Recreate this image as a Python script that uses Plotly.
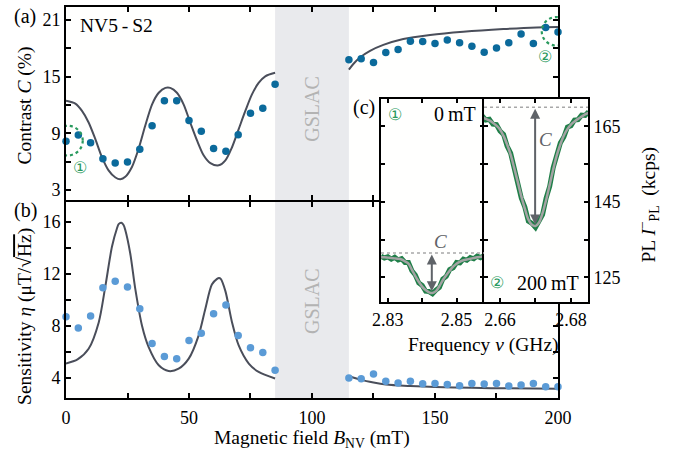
import plotly.graph_objects as go

# ---------------- data ----------------
B_dots = [0, 5, 10, 15, 20, 25, 30, 35, 40, 45, 50, 55, 60, 65, 70, 75, 80, 85,
          115, 120, 125, 130, 135, 140, 145, 150, 155, 160, 165, 170, 175, 180, 185, 190, 195, 200]
contrast = [8.16, 8.83, 8.0, 6.32, 5.86, 5.96, 7.32, 9.8, 12.45, 12.45, 10.36, 9.21, 7.40, 7.11, 8.86, 11.13, 11.65, 14.2,
            16.78, 16.88, 16.5, 17.55, 17.86, 18.73, 18.7, 18.49, 18.87, 18.59, 18.21, 17.58, 18.03, 18.59, 19.5, 18.49, 20.2, 19.71]
sensitivity = [8.69, 7.83, 8.76, 10.91, 11.42, 10.97, 9.30, 6.64, 5.65, 5.48, 6.87, 7.42, 8.92, 9.6, 7.25, 6.31, 5.95, 4.59,
               4.0, 3.93, 4.31, 3.75, 3.62, 3.75, 3.55, 3.58, 3.5, 3.40, 3.58, 3.53, 3.58, 3.38, 3.45, 3.58, 3.32, 3.32]

fitA1_B = [0, 3.8, 6.5, 9.2, 11.9, 14.6, 17.3, 20.1, 22.1, 24.1, 26.8, 29.5, 32.2, 35.0, 37.7, 40.4, 42.4, 45.1,
           47.8, 50.5, 53.3, 56.0, 58.7, 62.1, 64.8, 67.5, 70.2, 72.9, 75.6, 78.3, 81.0, 85]
fitA1_C = [12.45, 12.14, 11.37, 10.15, 8.41, 6.49, 5.09, 4.33, 4.15, 4.40, 5.44, 7.36, 9.80, 12.07, 13.29, 13.81, 13.81, 13.29,
           12.07, 10.15, 8.23, 6.66, 5.86, 5.62, 6.14, 7.53, 9.45, 11.37, 13.12, 14.33, 15.03, 15.40]
fitA2_B = [115, 116.8, 119.5, 123.6, 129, 137.1, 148, 161.5, 177.8, 191.3, 200]
fitA2_C = [15.73, 16.33, 17.02, 17.72, 18.35, 18.98, 19.40, 19.74, 20.03, 20.2, 20.24]

fitB1_B = [0, 4.7, 9.2, 13.3, 16.0, 18.7, 20.7, 21.4, 22.5, 23.4, 24.1, 26.1, 28.2, 30.9, 33.6, 37.7, 41.7, 45.8,
           49.9, 53.9, 56.6, 59.3, 61.4, 62.2, 62.9, 64.8, 67.5, 70.2, 74.3, 78.3, 85]
fitB1_S = [5.10, 5.42, 6.24, 8.26, 11.04, 14.08, 15.47, 15.80, 15.90, 15.73, 15.35, 13.57, 10.79, 8.0, 6.36, 4.97, 4.53, 4.71,
           5.48, 7.25, 9.27, 11.17, 11.60, 11.67, 11.60, 10.66, 8.26, 6.49, 5.10, 4.46, 3.96]
fitB2_B = [115, 120, 125, 130, 140, 150, 165, 180, 200]
fitB2_S = [4.15, 3.85, 3.65, 3.5, 3.38, 3.3, 3.24, 3.2, 3.17]

# inset spectra
freq0 = [2.828, 2.829, 2.830, 2.831, 2.832, 2.833, 2.834, 2.835, 2.836, 2.837, 2.838, 2.839, 2.840, 2.841, 2.842, 2.843,
         2.844, 2.845, 2.846, 2.847, 2.848, 2.849, 2.850, 2.851, 2.852, 2.853, 2.854, 2.855, 2.856, 2.857, 2.858]
pl0_data = [130.6, 130.1, 130.4, 129.8, 130.3, 129.6, 129.9, 128.9, 128.9, 126.7, 125.6, 123.5, 122.8, 121.3, 121.2, 120.6,
            121.6, 122.3, 124.5, 125.2, 127.0, 127.5, 128.9, 128.8, 129.8, 129.5, 130.2, 129.9, 130.6, 130.2, 130.7]
pl0_fit = [130.3, 130.3, 130.2, 130.1, 130.0, 129.9, 129.7, 129.2, 128.6, 127.0, 125.3, 123.8, 122.5, 121.6, 121.0, 120.8,
           121.3, 122.6, 124.2, 125.5, 126.7, 127.8, 128.6, 129.1, 129.5, 129.7, 129.9, 130.1, 130.3, 130.4, 130.5]
freq200 = [2.655, 2.656, 2.657, 2.658, 2.659, 2.660, 2.661, 2.662, 2.663, 2.664, 2.665, 2.666, 2.667, 2.668, 2.669, 2.670,
           2.671, 2.672, 2.673, 2.674, 2.675, 2.676, 2.677, 2.678, 2.679, 2.680, 2.681, 2.682, 2.683, 2.684, 2.685]
pl200_data = [167.8, 166.7, 166.9, 165.6, 165.5, 163.8, 162.9, 159.8, 157.9, 153.6, 150.8, 146.0, 143.6, 139.9, 139.3, 138.2,
              139.9, 141.6, 146.0, 149.1, 154.1, 156.9, 160.6, 162.2, 164.8, 165.2, 166.7, 166.8, 168.0, 167.9, 168.9]
pl200_fit = [167.5, 167.0, 166.6, 166.0, 165.2, 164.2, 162.5, 160.2, 157.5, 154.0, 150.3, 146.5, 143.2, 140.3, 138.9, 138.6,
             139.5, 142.0, 145.5, 149.5, 153.6, 157.3, 160.2, 162.6, 164.3, 165.5, 166.3, 167.0, 167.6, 168.2, 168.6]
base0, min0, center0 = 131.4, 121.3, 2.8428
base200, min200, center200 = 170.1, 139.0, 2.6699

xticks_main = [0, 25, 50, 75, 100, 125, 150, 175, 200]
xtext_main = ['0', ' ', '50', ' ', '100', ' ', '150', ' ', '200']
yticks_a = [3, 6, 9, 12, 15, 18, 21]
ytext_a = ['3', ' ', '9', ' ', '15', ' ', '21']
yticks_b = [4, 6, 8, 10, 12, 14, 16]
ytext_b = ['4', ' ', '8', ' ', '12', ' ', '16']
yticks_in = [125, 135, 145, 155, 165]
ytext_in = ['125', ' ', '145', ' ', '165']

# ---------------- style ----------------
FONT = "Liberation Serif"
FIT = '#4a4e5a'
DOT_A = '#0b6a9b'
DOT_B = '#5b9bd6'
GREEN = '#1f7f48'
GREEN_T = '#2a9a5e'
ARROW = '#5f6368'
TICK = 18
TITLE = 19.5

fig = go.Figure()
# panel (a)
fig.add_trace(go.Scatter(x=fitA1_B, y=fitA1_C, mode='lines', line=dict(color=FIT, width=2, shape='spline', smoothing=0.8),
                         xaxis='x2', yaxis='y2', showlegend=False))
fig.add_trace(go.Scatter(x=fitA2_B, y=fitA2_C, mode='lines', line=dict(color=FIT, width=2, shape='spline', smoothing=0.8),
                         xaxis='x2', yaxis='y2', showlegend=False))
fig.add_trace(go.Scatter(x=B_dots, y=contrast, mode='markers', marker=dict(color=DOT_A, size=7.5),
                         xaxis='x2', yaxis='y2', showlegend=False, cliponaxis=False))
# panel (b)
fig.add_trace(go.Scatter(x=fitB1_B, y=fitB1_S, mode='lines', line=dict(color=FIT, width=2, shape='spline', smoothing=0.8),
                         xaxis='x', yaxis='y', showlegend=False))
fig.add_trace(go.Scatter(x=fitB2_B, y=fitB2_S, mode='lines', line=dict(color=FIT, width=2, shape='spline', smoothing=0.8),
                         xaxis='x', yaxis='y', showlegend=False))
fig.add_trace(go.Scatter(x=B_dots, y=sensitivity, mode='markers', marker=dict(color=DOT_B, size=7.5),
                         xaxis='x', yaxis='y', showlegend=False, cliponaxis=False))
# inset (c)
fig.add_trace(go.Scatter(x=freq0, y=pl0_data, mode='lines', line=dict(color=GREEN, width=5),
                         xaxis='x3', yaxis='y3', showlegend=False))
fig.add_trace(go.Scatter(x=freq0, y=pl0_fit, mode='lines', line=dict(color='#a3a3a3', width=2.5, shape='spline'),
                         xaxis='x3', yaxis='y3', showlegend=False))
fig.add_trace(go.Scatter(x=freq200, y=pl200_data, mode='lines', line=dict(color=GREEN, width=5),
                         xaxis='x4', yaxis='y4', showlegend=False))
fig.add_trace(go.Scatter(x=freq200, y=pl200_fit, mode='lines', line=dict(color='#a3a3a3', width=2.5, shape='spline'),
                         xaxis='x4', yaxis='y4', showlegend=False))

ax = dict(showline=True, linewidth=2, linecolor='black', mirror='ticks', ticks='inside', ticklen=5,
          tickwidth=1.5, tickcolor='black', showgrid=False, zeroline=False,
          tickfont=dict(family=FONT, size=TICK, color='black'))

XD = [0, 0.9425]
IN_Y = [0.2443, 0.7659]
fig.update_layout(
    width=696, height=466,
    margin=dict(l=66, r=108, t=5, b=68),
    paper_bgcolor='white', plot_bgcolor='#fffffe',
    font=dict(family=FONT, size=TICK, color='black'),
    xaxis=dict(ax, domain=XD, range=[0, 200], anchor='y', tickvals=xticks_main, ticktext=xtext_main,
               ticklabelstandoff=2),
    yaxis=dict(ax, domain=[0, 0.5013], range=[2.46, 17.5], anchor='x', tickvals=yticks_b, ticktext=ytext_b),
    xaxis2=dict(ax, domain=XD, range=[0, 200], anchor='y2', tickvals=xticks_main, showticklabels=False),
    yaxis2=dict(ax, domain=[0.5063, 1], range=[1.95, 22.36], anchor='x2', tickvals=yticks_a, ticktext=ytext_a),
    xaxis3=dict(ax, domain=[0.6034, 0.8008], range=[2.828, 2.858], anchor='y3', tickvals=[2.83, 2.84, 2.85],
                ticktext=['2.83', ' ', '2.85'], ticklen=4),
    yaxis3=dict(ax, domain=IN_Y, range=[118.3, 172.4], anchor='x3', tickvals=yticks_in, showticklabels=False, ticklen=4),
    xaxis4=dict(ax, domain=[0.8008, 1.0], range=[2.6555, 2.6848], anchor='y4', tickvals=[2.66, 2.67, 2.68],
                ticktext=['2.66', ' ', '2.68'], ticklen=4),
    yaxis4=dict(ax, domain=IN_Y, range=[118.3, 172.4], anchor='x4', side='right', tickvals=yticks_in,
                ticktext=ytext_in, ticklen=4),
)

shapes = [
    dict(type='rect', xref='x', yref='paper', x0=85, x1=115, y0=0, y1=1, fillcolor='#e9eaed',
         line=dict(width=0), layer='below'),
    dict(type='circle', xref='x2', yref='y2', x0=-5.4, x1=6.8, y0=6.66, y1=9.8,
         line=dict(color=GREEN_T, width=2.2, dash='dot')),
    dict(type='circle', xref='x2', yref='y2', x0=193.4, x1=205.2, y0=18.28, y1=21.3,
         line=dict(color=GREEN_T, width=2.2, dash='dot')),
    dict(type='line', xref='x3', yref='y3', x0=2.828, x1=2.858, y0=base0, y1=base0,
         line=dict(color='#a8a8a8', width=1.5, dash='dot')),
    dict(type='line', xref='x4', yref='y4', x0=2.6555, x1=2.6848, y0=base200, y1=base200,
         line=dict(color='#a8a8a8', width=1.5, dash='dot')),
]
fig.update_layout(shapes=shapes)

def txt(x, y, s, xref='paper', yref='paper', size=TITLE, color='black', angle=0, xanchor='center', yanchor='middle'):
    return dict(x=x, y=y, xref=xref, yref=yref, text=s, showarrow=False, textangle=angle,
                font=dict(family=FONT, size=size, color=color), xanchor=xanchor, yanchor=yanchor)

ann = [
    txt(-0.0785, 0.9746, '(a)', size=20),
    txt(-0.0785, 0.4784, '(b)', size=20),
    txt(0.5718, 0.7417, '(c)', size=20),
    txt(0.023, 0.9524, 'NV5\u2009-\u2009S2', size=19.5, xanchor='left'),
    txt(-0.0785, 0.748, 'Contrast <i>C</i> (%)', angle=-90),
    txt(-0.0785, 0.2074, "Sensitivity <i>η</i> (μT/√<span style='text-decoration:overline'>Hz</span>)", angle=-90),
    txt(0.4713, -0.106, 'Magnetic field <i>B</i><sub>NV</sub> (mT)'),
    txt(0.7989, 0.1349, 'Frequency <i>ν</i> (GHz)'),
    txt(1.115, 0.4949, 'PL <i>I</i><sup>−</sup><sub>PL</sub>  (kcps)', angle=-90),
    txt(100, 11.6, 'GSLAC', xref='x2', yref='y2', size=20, color='#b3b3b3', angle=-90),
    txt(100, 9.9, 'GSLAC', xref='x', yref='y', size=20, color='#b3b3b3', angle=-90),
    txt(5.7, 5.4, '①', xref='x2', yref='y2', size=16, color=GREEN_T),
    txt(194.7, 17.13, '②', xref='x2', yref='y2', size=16, color=GREEN_T),
    txt(2.8321, 168.2, '①', xref='x3', yref='y3', size=16, color=GREEN_T),
    txt(2.8562, 168.2, '0\u2009mT', xref='x3', yref='y3', size=20, xanchor='right'),
    txt(2.6592, 123.6, '②', xref='x4', yref='y4', size=16, color=GREEN_T),
    txt(2.6828, 123.6, '200\u2009mT', xref='x4', yref='y4', size=20, xanchor='right'),
    txt(2.8453, 134.4, '<i>C</i>', xref='x3', yref='y3', size=19, color=ARROW),
    txt(2.6728, 161.5, '<i>C</i>', xref='x4', yref='y4', size=19, color=ARROW),
    dict(x=center0, y=min0, ax=center0, ay=base0, xref='x3', yref='y3', axref='x3', ayref='y3', text='',
         showarrow=True, arrowhead=2, startarrowhead=2, arrowside='end+start', arrowsize=1, arrowwidth=2,
         arrowcolor=ARROW),
    dict(x=center200, y=min200, ax=center200, ay=base200, xref='x4', yref='y4', axref='x4', ayref='y4', text='',
         showarrow=True, arrowhead=2, startarrowhead=2, arrowside='end+start', arrowsize=1, arrowwidth=2,
         arrowcolor=ARROW),
]
fig.update_layout(annotations=ann)

fig.write_html("out.html", config={'displayModeBar': False},
               post_script="document.body.style.margin='0';document.body.style.padding='0';")
